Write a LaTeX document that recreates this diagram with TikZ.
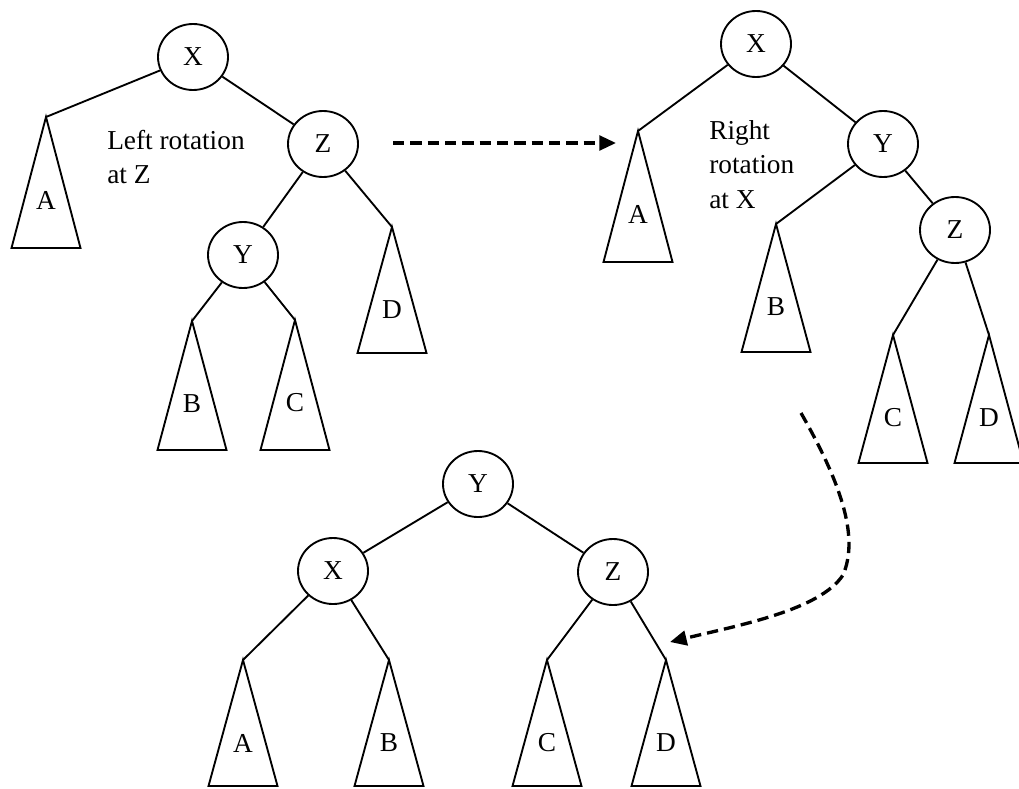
\documentclass[tikz,border=0pt]{standalone}
\usepackage{fontspec}
\setmainfont{Liberation Serif}
\usetikzlibrary{arrows.meta,shapes.geometric}
\newcommand\subtri[5]{%
  \coordinate (#1) at (#2,#3);
  \draw[tri] (#1) -- ++(-34.5,#4-#3) -- ++(69,0) -- cycle;
  \node (#1l) at (#2,#3+83) {#5};}
\begin{document}
\begin{tikzpicture}[x=0.75pt,y=-0.75pt,
  every node/.style={font=\fontsize{20.5pt}{25.8pt}\selectfont},
  tnode/.style={draw, ellipse, line width=1.4pt, minimum width=52.5pt, minimum height=49.5pt, inner sep=0pt},
  link/.style={line width=1.4pt},
  tri/.style={line width=1.4pt, line join=miter},
  dasharrow/.style={line width=2.5pt, dash pattern=on 8.5pt off 4.5pt, -{Triangle[length=12.5pt,width=11pt]}},
  note/.style={anchor=north west, align=left, inner sep=0pt}]
\useasboundingbox (0,0) rectangle (1019,788);

% ---------- tree 1 ----------
\node[tnode] (X1) at (193,57) {X};
\node[tnode] (Z1) at (323,144) {Z};
\node[tnode] (Y1) at (243,255) {Y};
\subtri{A1}{46}{117}{248}{A}
\subtri{B1}{192}{321}{450}{B}
\subtri{C1}{295}{320}{450}{C}
\subtri{D1}{392}{227}{353}{D}
\draw[link] (X1) -- (A1);
\draw[link] (X1) -- (Z1);
\draw[link] (Z1) -- (Y1);
\draw[link] (Z1) -- (D1);
\draw[link] (Y1) -- (B1);
\draw[link] (Y1) -- (C1);
\node[note] (t1) at (107,130) {Left rotation\\at Z};

% ---------- tree 2 ----------
\node[tnode] (X2) at (756,44) {X};
\node[tnode] (Y2) at (883,144) {Y};
\node[tnode] (Z2) at (955,230) {Z};
\subtri{A2}{638}{131}{262}{A}
\subtri{B2}{776}{224}{352}{B}
\subtri{C2}{893}{335}{463}{C}
\subtri{D2}{989}{335}{463}{D}
\draw[link] (X2) -- (A2);
\draw[link] (X2) -- (Y2);
\draw[link] (Y2) -- (B2);
\draw[link] (Y2) -- (Z2);
\draw[link] (Z2) -- (C2);
\draw[link] (Z2) -- (D2);
\node[note] (t2) at (709,120) {Right\\rotation\\at X};

% ---------- tree 3 ----------
\node[tnode] (Y3) at (478,484) {Y};
\node[tnode] (X3) at (333,571) {X};
\node[tnode] (Z3) at (613,572) {Z};
\subtri{A3}{243}{660}{786}{A}
\subtri{B3}{389}{660}{786}{B}
\subtri{C3}{547}{660}{786}{C}
\subtri{D3}{666}{660}{786}{D}
\draw[link] (Y3) -- (X3);
\draw[link] (Y3) -- (Z3);
\draw[link] (X3) -- (A3);
\draw[link] (X3) -- (B3);
\draw[link] (Z3) -- (C3);
\draw[link] (Z3) -- (D3);

% ---------- arrows ----------
\coordinate (s1) at (393,143);
\coordinate (e1) at (616,143);
\draw[dasharrow] (s1) -- (e1);
\coordinate (s2) at (801,413);
\coordinate (m2) at (843,575);
\coordinate (e2) at (670,642);
\draw[dasharrow] (s2) .. controls (845,490) and (858,540) .. (m2)
  .. controls (820,610) and (740,625) .. (e2);
\end{tikzpicture}
\end{document}
